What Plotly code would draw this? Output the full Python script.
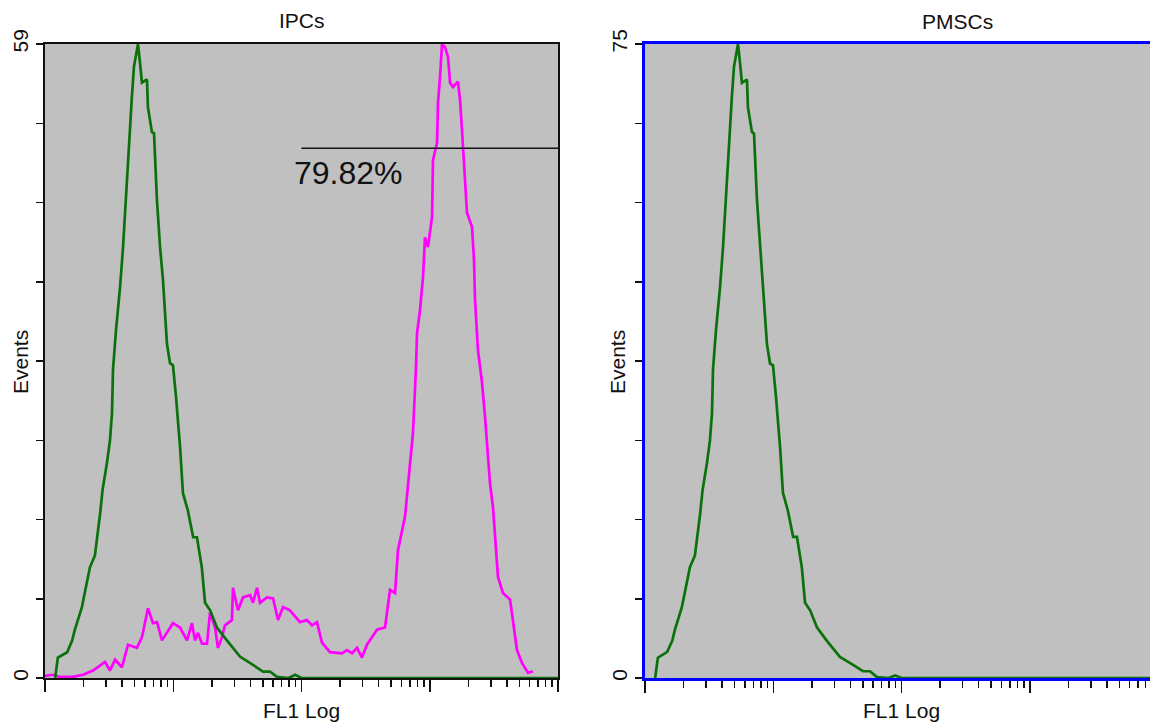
import math
import plotly.graph_objects as go

# ---------------- data ----------------
# FL1 fluorescence (log axis) and event counts
green_ipc_fl1 = [1.20, 1.26, 1.49, 1.63, 1.71, 1.94, 2.24, 2.45, 2.69, 2.81, 3.04, 3.21, 3.33, 3.39,
                 3.58, 3.85, 4.06, 4.21, 4.36, 4.44, 4.76, 4.94, 5.13, 5.31, 5.51, 5.70, 6.24, 6.35,
                 6.82, 7.08, 7.46, 7.89, 8.32, 8.63, 8.93, 9.44, 9.95, 10.5, 11.3, 11.9, 13.0, 14.3,
                 15.3, 16.7, 17.7, 19.4, 21.9, 26.2, 33.1, 39.6, 50.1, 56.8, 64.4, 79.4, 89.1, 100,
                 10000]
green_ipc_events = [0, 1.9, 2.4, 3.5, 4.5, 6.6, 10.3, 11.4, 15.3, 17.5, 20.0, 22.1, 24.7, 28.7,
                    32.4, 36.4, 40.1, 43.3, 46.3, 48.9, 54.1, 56.9, 58.2, 59.0, 57.2, 55.4, 55.7, 53.1,
                    50.8, 50.7, 44.5, 40.1, 37.0, 33.9, 31.1, 29.3, 29.1, 26.2, 21.5, 17.2, 15.6, 13.1,
                    13.1, 10.3, 7.0, 6.3, 4.7, 3.5, 2.0, 1.4, 0.6, 0.6, 0.1, 0, 0.3, 0,
                    0]

magenta_ipc_fl1 = [1.00, 1.155, 1.309, 1.653, 1.979, 2.367, 2.937, 3.213, 3.515, 3.985, 4.436, 5.213,
                   5.705, 6.353, 6.950, 7.47, 8.17, 8.94, 9.95, 11.29, 12.80, 14.00, 14.78, 15.60,
                   16.75, 18.33, 19.36, 21.2, 22.3, 24.0, 25.3, 28.7, 29.2, 32.0, 35.0, 39.7, 41.9,
                   45.0, 47.5, 53.8, 60.0, 65.6, 71.8, 81.3, 97.3, 110.4, 120.8, 132, 144.5, 166.8,
                   207, 226, 248, 271, 296, 324, 388, 448, 490, 536, 565, 641, 702, 740, 781, 796,
                   839, 886, 918, 969, 1042, 1060, 1140, 1159, 1202, 1247, 1315, 1388, 1439, 1518,
                   1660, 1722, 1784, 1884, 1951, 2134, 2213, 2254, 2377, 2555, 2698, 2951, 3112,
                   3405, 3724, 4227, 4790, 5240, 5834, 6383]
magenta_ipc_events = [0.2, 0.3, 0.1, 0.1, 0.3, 0.7, 1.5, 0.7, 1.7, 1.0, 3.1, 2.8,
                      3.8, 6.5, 5.1, 5.2, 3.5, 4.2, 5.1, 4.7, 3.5, 5.1, 3.5, 4.2,
                      3.2, 3.2, 6.1, 4.7, 2.8, 3.8, 4.9, 5.4, 8.4, 6.3, 7.5, 7.7, 7.0,
                      8.4, 7.0, 7.5, 7.4, 5.4, 6.6, 6.3, 5.2, 5.4, 4.9, 5.2, 3.3, 2.4,
                      2.3, 2.6, 2.3, 2.8, 1.9, 3.1, 4.5, 4.7, 8.2, 7.9, 11.9, 15.0, 19.6, 22.8, 28.9, 32.1,
                      34.2, 37.3, 41.0, 40.1, 42.9, 48.2, 49.8, 53.5, 55.9, 59.0, 58.7, 57.8, 55.4, 55.0,
                      55.5, 53.8, 51.0, 46.3, 43.3, 42.0, 38.9, 35.2, 30.5, 27.5, 24.3, 18.1, 15.9,
                      9.4, 7.9, 7.3, 2.6, 1.4, 0.5, 0.6, 0.1]

green_pmsc_fl1 = green_ipc_fl1
green_pmsc_events = [0, 2.4, 3.1, 4.4, 5.7, 8.4, 13.1, 14.5, 19.4, 22.2, 25.4, 28.1, 31.4, 36.5,
                     41.2, 46.3, 51.0, 55.0, 58.8, 62.2, 68.8, 72.3, 74.0, 75.0, 72.7, 70.4, 70.8, 67.5,
                     64.6, 64.4, 56.6, 51.0, 47.0, 43.1, 39.5, 37.2, 37.0, 33.3, 27.3, 21.9, 19.8, 16.7,
                     16.7, 13.1, 8.9, 8.0, 6.0, 4.4, 2.5, 1.8, 0.8, 0.8, 0.1, 0, 0.3, 0,
                     0]

# gate marker on the IPC histogram
gate_fl1 = [100, 10000]
gate_events = [49.3, 49.3]
gate_label = "79.82%"
gate_label_pos = (84, 47.0)

panel_titles = ["IPCs", "PMSCs"]
x_title = "FL1 Log"
y_title = "Events"
ymax_ipc = 59
ymax_pmsc = 75
n_ytick_intervals = 8

major_x = [1, 10, 100, 1000, 10000]
minor_x = [m * d for d in (1, 10, 100, 1000) for m in range(2, 10)]

# ---------------- figure ----------------
GREEN = "#0b720b"
MAGENTA = "#ff00ff"
FONT = "Liberation Sans, Arial, sans-serif"
FS = 21

fig = go.Figure()
fig.add_trace(go.Scatter(x=magenta_ipc_fl1, y=magenta_ipc_events, mode="lines",
                         line=dict(color=MAGENTA, width=2.7), xaxis="x", yaxis="y",
                         showlegend=False, hoverinfo="skip"))
fig.add_trace(go.Scatter(x=green_ipc_fl1, y=green_ipc_events, mode="lines",
                         line=dict(color=GREEN, width=2.7), xaxis="x", yaxis="y",
                         showlegend=False, hoverinfo="skip"))
fig.add_trace(go.Scatter(x=gate_fl1, y=gate_events, mode="lines",
                         line=dict(color="#111111", width=1.5), xaxis="x", yaxis="y",
                         showlegend=False, hoverinfo="skip"))
fig.add_trace(go.Scatter(x=green_pmsc_fl1, y=green_pmsc_events, mode="lines",
                         line=dict(color=GREEN, width=2.7), xaxis="x2", yaxis="y2",
                         showlegend=False, hoverinfo="skip"))

W, H = 1150, 725
ML, MR, MT, MB = 45, 0, 44, 47
pw = W - ML - MR
ph = H - MT - MB


def px_x(p):
    return (p - ML) / pw


def px_y(p):
    return (H - MB - p) / ph


def xaxis_cfg(domain, color, rng, lw, anchor):
    return dict(type="log", range=rng, domain=domain, anchor=anchor, showline=True, linecolor=color,
                linewidth=lw, mirror=True, ticks="outside", ticklen=12, tickwidth=1.5,
                tickcolor="#111111", tickvals=major_x, showticklabels=False,
                showgrid=False, zeroline=False, layer="below traces",
                minor=dict(ticks="outside", ticklen=7, tickwidth=1.5, tickcolor="#111111",
                           tickvals=minor_x, showgrid=False))


def yaxis_cfg(anchor, ymax, color, lw, mirror):
    vals = [ymax * k / n_ytick_intervals for k in range(n_ytick_intervals + 1)]
    text = ["0"] + [""] * (n_ytick_intervals - 1) + [str(ymax)]
    return dict(anchor=anchor, range=[0, ymax], domain=[0, 1], showline=True, linecolor=color,
                linewidth=lw, mirror=mirror, ticks="outside", ticklen=7, tickwidth=1.5,
                tickcolor="#111111", tickvals=vals, ticktext=text, tickangle=-90,
                tickfont=dict(size=FS, color="#111111", family=FONT),
                showgrid=False, zeroline=False, layer="below traces")


right_end = (W - 645) / 128.25

fig.update_layout(
    width=W, height=H,
    margin=dict(l=ML, r=MR, t=MT, b=MB),
    paper_bgcolor="white",
    plot_bgcolor="#c0c0c0",
    font=dict(family=FONT, size=FS, color="#111111"),
    xaxis=xaxis_cfg([0, px_x(558)], "#111111", [0, 4], 2, "y"),
    yaxis=yaxis_cfg("x", ymax_ipc, "#111111", 2, True),
    xaxis2=xaxis_cfg([px_x(645), 1], "#0000ff", [0, right_end], 3, "y2"),
    yaxis2=yaxis_cfg("x2", ymax_pmsc, "#0000ff", 3, False),
)

ann = [
    dict(text=panel_titles[0], x=px_x(302), y=px_y(20)),
    dict(text=panel_titles[1], x=px_x(957), y=px_y(21)),
    dict(text=x_title, x=px_x(301), y=px_y(711)),
    dict(text=x_title, x=px_x(901), y=px_y(711)),
    dict(text=y_title, x=px_x(20), y=px_y(362), textangle=-90),
    dict(text=y_title, x=px_x(617), y=px_y(362), textangle=-90),
]
for a in ann:
    fig.add_annotation(xref="paper", yref="paper", showarrow=False,
                       xanchor="center", yanchor="middle",
                       font=dict(size=FS, color="#111111", family=FONT), **a)

fig.add_annotation(xref="x", yref="y", x=math.log10(gate_label_pos[0]), y=gate_label_pos[1],
                   text=gate_label, showarrow=False, xanchor="left", yanchor="middle",
                   font=dict(size=32, color="#111111", family=FONT))

fig.write_html("out.html",
               config={"displayModeBar": False, "staticPlot": True},
               post_script="document.body.style.margin='0px';document.body.style.padding='0px';"
                           "document.body.style.overflow='hidden';")
